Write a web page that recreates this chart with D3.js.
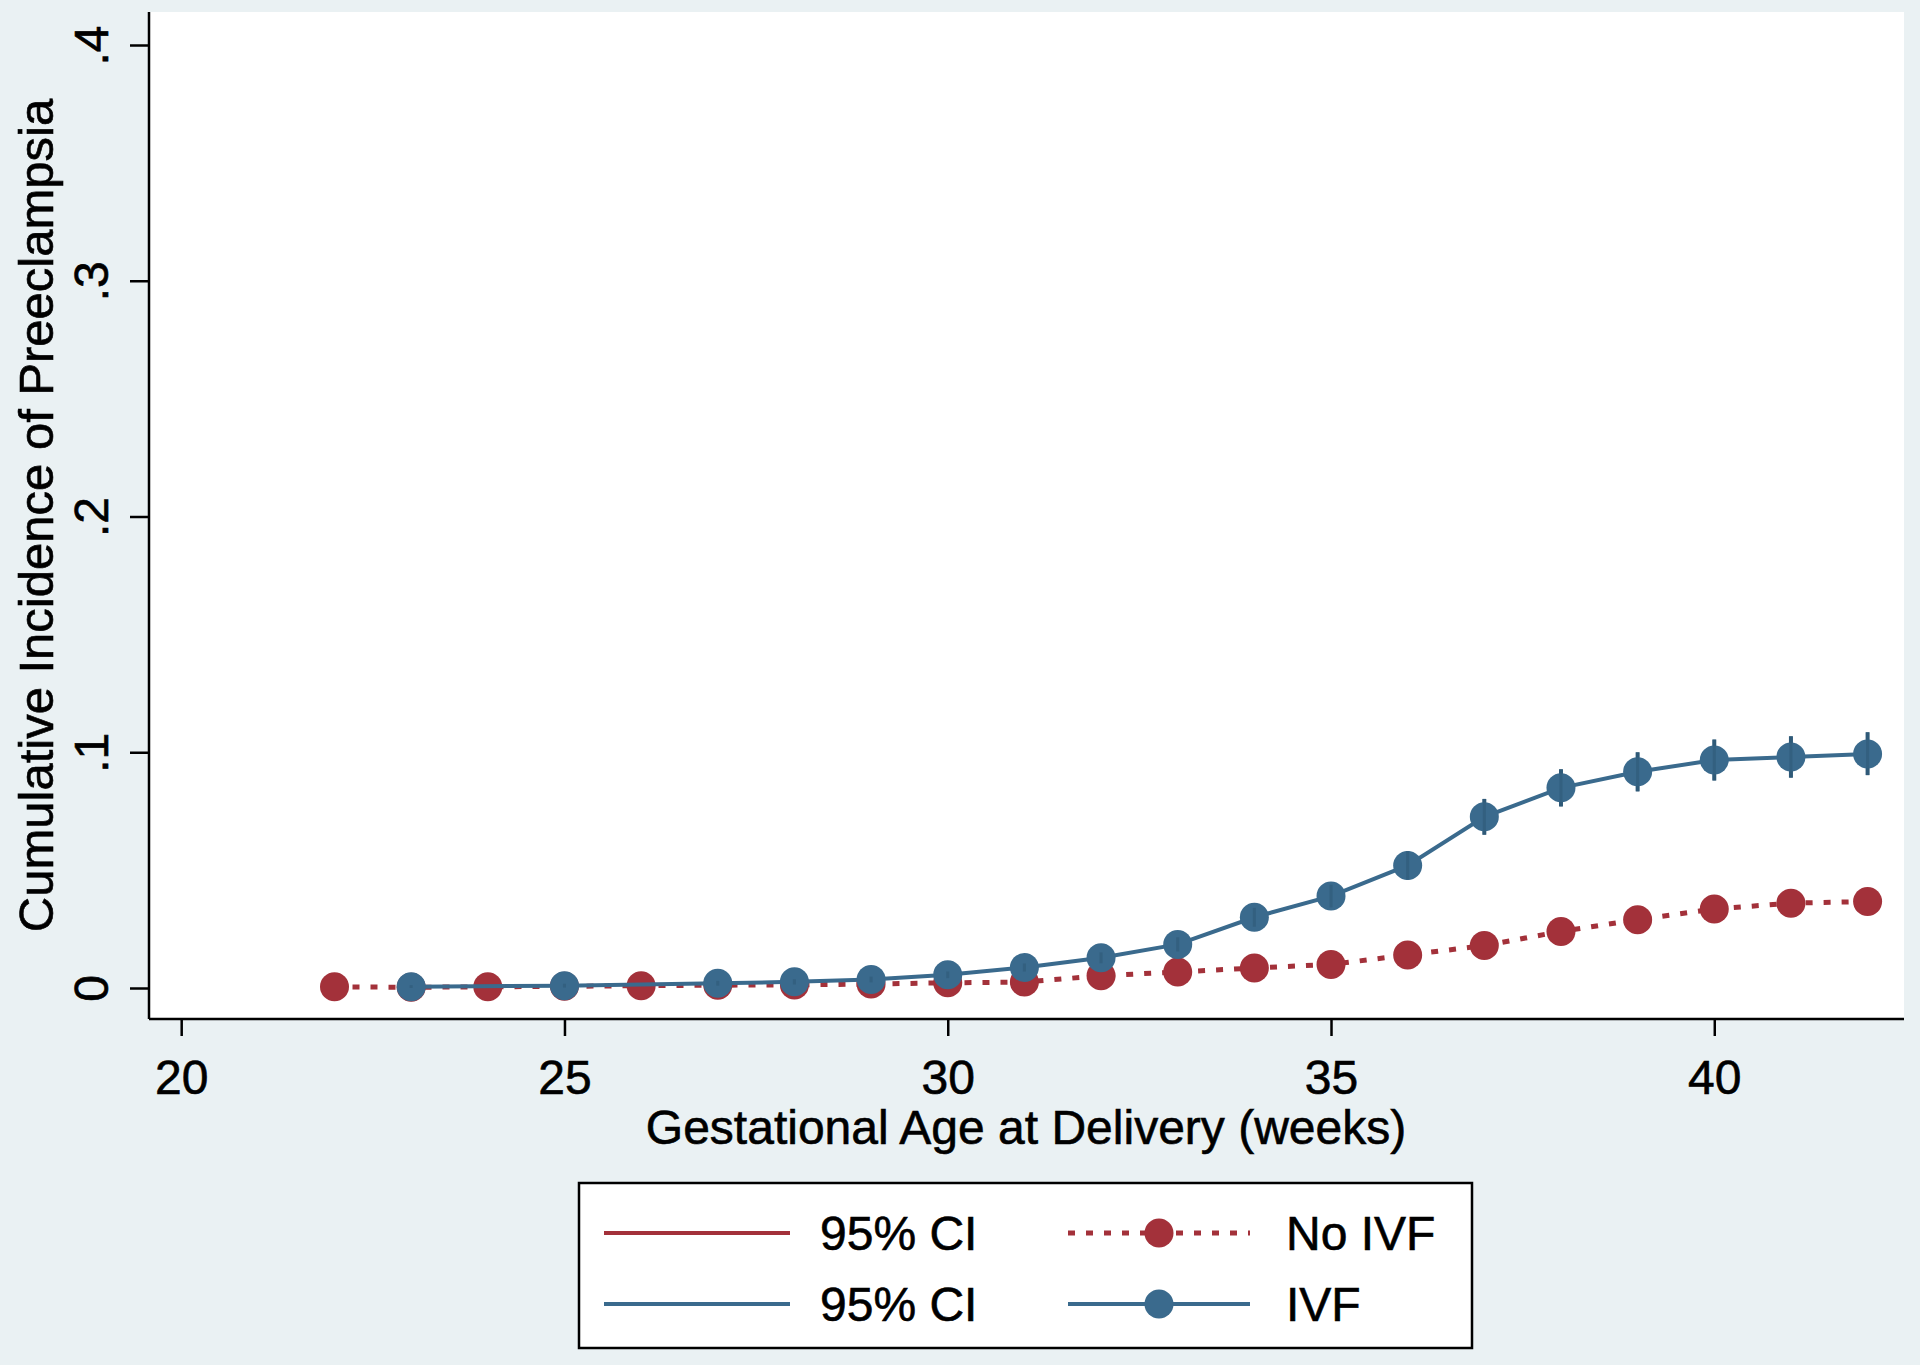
<!DOCTYPE html>
<html>
<head>
<meta charset="utf-8">
<script src="https://cdn.jsdelivr.net/npm/d3@7"></script>
<style>
  html, body { margin: 0; padding: 0; background: #eaf1f3; }
  svg { display: block; }
  text { font-family: "Liberation Sans", Arial, Helvetica, sans-serif; fill: #000; stroke: #000; stroke-width: 0.6px; }
</style>
</head>
<body>
<script>
// ---- data ----
const xTicks = [20, 25, 30, 35, 40];
const yTicks = [0, 0.1, 0.2, 0.3, 0.4];
const yTickLabels = ["0", ".1", ".2", ".3", ".4"];
const xTitle = "Gestational Age at Delivery (weeks)";
const yTitle = "Cumulative Incidence of Preeclampsia";

const noIvfWeeks = [22, 23, 24, 25, 26, 27, 28, 29, 30, 31, 32, 33, 34, 35, 36, 37, 38, 39, 40, 41, 42];
const noIvfRate  = [0.0005, 0.0003, 0.0005, 0.0007, 0.001, 0.0012, 0.0013, 0.0017, 0.0022, 0.0025, 0.0052, 0.0068, 0.0085, 0.0100, 0.014, 0.018, 0.024, 0.029, 0.0335, 0.036, 0.0367];
const noIvfLow   = [0.0002, 0.0001, 0.0002, 0.0004, 0.0006, 0.0008, 0.0009, 0.0012, 0.0017, 0.0020, 0.0045, 0.0060, 0.0076, 0.0090, 0.0128, 0.0167, 0.0225, 0.0274, 0.0318, 0.0342, 0.0349];
const noIvfHigh  = [0.0008, 0.0005, 0.0008, 0.0010, 0.0014, 0.0016, 0.0017, 0.0022, 0.0027, 0.0030, 0.0059, 0.0076, 0.0094, 0.0110, 0.0152, 0.0193, 0.0255, 0.0306, 0.0352, 0.0378, 0.0385];

const ivfWeeks = [23, 25, 27, 28, 29, 30, 31, 32, 33, 34, 35, 36, 37, 38, 39, 40, 41, 42];
const ivfRate  = [0.0005, 0.001, 0.002, 0.0026, 0.0036, 0.0056, 0.0087, 0.0128, 0.0185, 0.030, 0.039, 0.052, 0.0726, 0.0849, 0.0917, 0.0967, 0.098, 0.0993];
const ivfLow   = [0.0000, 0.0002, 0.0010, 0.0015, 0.0024, 0.0042, 0.0070, 0.0105, 0.0155, 0.0260, 0.0342, 0.0460, 0.0650, 0.0770, 0.0834, 0.0880, 0.0892, 0.0903];
const ivfHigh  = [0.0012, 0.0018, 0.0030, 0.0037, 0.0048, 0.0070, 0.0104, 0.0151, 0.0215, 0.0340, 0.0438, 0.0580, 0.0802, 0.0928, 0.1000, 0.1054, 0.1068, 0.1085];

const legendItems = [
  { label: "95% CI", kind: "ci", series: "no" },
  { label: "No IVF", kind: "series", series: "no" },
  { label: "95% CI", kind: "ci", series: "ivf" },
  { label: "IVF", kind: "series", series: "ivf" }
];

// ---- styles ----
const RED = "#a3313a";
const BLUE = "#3a6a8d";
const W = 1920, H = 1365;
const FS = 48;

const svg = d3.select("body").append("svg").attr("width", W).attr("height", H);
svg.append("rect").attr("width", W).attr("height", H).attr("fill", "#eaf1f3");

const plot = { left: 149, right: 1904, top: 12, bottom: 1019 };
const x = d3.scaleLinear().domain([19.58, 42.475]).range([plot.left, plot.right]);
const y = d3.scaleLinear().domain([-0.01315, 0.414]).range([plot.bottom, plot.top]);

svg.append("rect")
  .attr("x", plot.left).attr("y", plot.top)
  .attr("width", plot.right - plot.left).attr("height", plot.bottom - plot.top)
  .attr("fill", "#fff");

// axes
const yAxis = d3.axisLeft(y).tickValues(yTicks).tickSize(19).tickSizeOuter(0)
  .tickFormat((d, i) => yTickLabels[i]);
const gy = svg.append("g").attr("transform", `translate(${plot.left},0)`).call(yAxis);
gy.select(".domain").attr("d", `M0,${plot.top}V${plot.bottom}`).attr("stroke", "#000").attr("stroke-width", 2.5);
gy.selectAll(".tick line").attr("stroke", "#000").attr("stroke-width", 2.5);
gy.selectAll(".tick text")
  .attr("transform", "rotate(-90)")
  .attr("x", 0).attr("y", -41).attr("dy", null)
  .attr("text-anchor", "middle")
  .style("font-size", FS + "px")
  .style("font-family", "'Liberation Sans', Arial, Helvetica, sans-serif")
  .attr("fill", "#000");

const xAxis = d3.axisBottom(x).tickValues(xTicks).tickSize(17).tickSizeOuter(0);
const gx = svg.append("g").attr("transform", `translate(0,${plot.bottom})`).call(xAxis);
gx.select(".domain").attr("d", `M${plot.left},0H${plot.right}`).attr("stroke", "#000").attr("stroke-width", 2.5);
gx.selectAll(".tick line").attr("stroke", "#000").attr("stroke-width", 2.5);
gx.selectAll(".tick text")
  .attr("y", 75).attr("dy", null)
  .style("font-size", FS + "px")
  .style("font-family", "'Liberation Sans', Arial, Helvetica, sans-serif")
  .attr("fill", "#000");

// titles
svg.append("text")
  .attr("transform", `translate(53,${(plot.top + plot.bottom) / 2}) rotate(-90)`)
  .attr("text-anchor", "middle")
  .style("font-size", "49px")
  .text(yTitle);
svg.append("text")
  .attr("x", 1026).attr("y", 1144)
  .attr("text-anchor", "middle")
  .style("font-size", FS + "px")
  .text(xTitle);

// data
const noData = noIvfWeeks.map((w, i) => ({ w, v: noIvfRate[i], lo: noIvfLow[i], hi: noIvfHigh[i] }));
const ivfData = ivfWeeks.map((w, i) => ({ w, v: ivfRate[i], lo: ivfLow[i], hi: ivfHigh[i] }));

const R = 14.5;
const line = d3.line().x(d => x(d.w)).y(d => y(d.v));

// CI spikes
svg.append("g").selectAll("line").data(noData).join("line")
  .attr("x1", d => x(d.w)).attr("x2", d => x(d.w))
  .attr("y1", d => y(d.lo)).attr("y2", d => y(d.hi))
  .attr("stroke", RED).attr("stroke-width", 4);
svg.append("g").selectAll("line").data(ivfData).join("line")
  .attr("x1", d => x(d.w)).attr("x2", d => x(d.w))
  .attr("y1", d => y(d.lo)).attr("y2", d => y(d.hi))
  .attr("stroke", "#2f5a78").attr("stroke-width", 4);

// No IVF
svg.append("path").datum(noData).attr("d", line)
  .attr("fill", "none").attr("stroke", RED).attr("stroke-width", 5)
  .attr("stroke-dasharray", "7,11");
svg.append("g").selectAll("circle").data(noData).join("circle")
  .attr("cx", d => x(d.w)).attr("cy", d => y(d.v)).attr("r", R)
  .attr("fill", RED);

// IVF
svg.append("path").datum(ivfData).attr("d", line)
  .attr("fill", "none").attr("stroke", BLUE).attr("stroke-width", 4);
svg.append("g").selectAll("circle").data(ivfData).join("circle")
  .attr("cx", d => x(d.w)).attr("cy", d => y(d.v)).attr("r", R)
  .attr("fill", BLUE);
svg.append("g").selectAll("line").data(ivfData).join("line")
  .attr("x1", d => x(d.w)).attr("x2", d => x(d.w))
  .attr("y1", d => y(d.lo)).attr("y2", d => y(d.hi))
  .attr("stroke", "#2f5a78").attr("stroke-width", 3).attr("opacity", 0.6);

// legend
const lg = { x: 579, y: 1183, w: 893, h: 165 };
svg.append("rect").attr("x", lg.x).attr("y", lg.y).attr("width", lg.w).attr("height", lg.h)
  .attr("fill", "#fff").attr("stroke", "#000").attr("stroke-width", 2.5);

const rowY = [1233, 1304];
const colSym = [[604, 790], [1068, 1250]];
const colText = [820, 1286];
legendItems.forEach((it, i) => {
  const row = Math.floor(i / 2), col = i % 2;
  const yy = rowY[row];
  const color = it.series === "no" ? RED : BLUE;
  const [x1, x2] = colSym[col];
  const ln = svg.append("line").attr("x1", x1).attr("x2", x2).attr("y1", yy).attr("y2", yy)
    .attr("stroke", color).attr("stroke-width", it.kind === "ci" ? 4 : (it.series === "no" ? 5 : 4));
  if (it.kind === "series" && it.series === "no") ln.attr("stroke-dasharray", "7,11");
  if (it.kind === "series") {
    svg.append("circle").attr("cx", (x1 + x2) / 2).attr("cy", yy).attr("r", R).attr("fill", color);
  }
  svg.append("text").attr("x", colText[col]).attr("y", yy + 17)
    .style("font-size", FS + "px").text(it.label);
});
</script>
</body>
</html>
